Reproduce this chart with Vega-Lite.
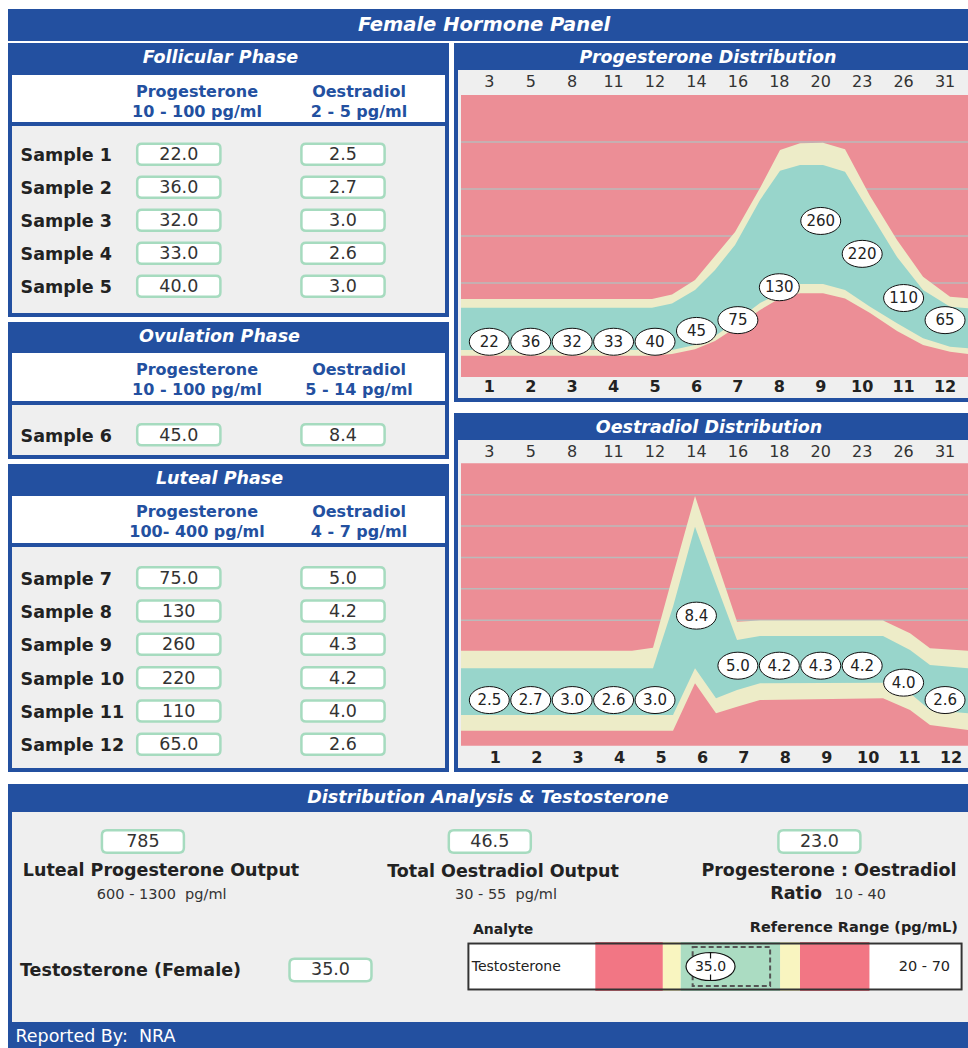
{
"$schema": "https://vega.github.io/schema/vega-lite/v6.json",
"background": "white",
"padding": {"left": 8, "top": 9, "right": 0, "bottom": 0},
"config": {"view": {"stroke": null}, "font": "DejaVu Sans", "text": {"font": "DejaVu Sans"}},
"datasets": {
 "samples": [
  {"sample":1,"label":"Sample 1","phase":"Follicular","day":3,"progesterone":22,"oestradiol":2.5,"progLevel":75,"oestLevel":2.91},
  {"sample":2,"label":"Sample 2","phase":"Follicular","day":5,"progesterone":36,"oestradiol":2.7,"progLevel":75,"oestLevel":2.91},
  {"sample":3,"label":"Sample 3","phase":"Follicular","day":8,"progesterone":32,"oestradiol":3.0,"progLevel":75,"oestLevel":2.91},
  {"sample":4,"label":"Sample 4","phase":"Follicular","day":11,"progesterone":33,"oestradiol":2.6,"progLevel":75,"oestLevel":2.91},
  {"sample":5,"label":"Sample 5","phase":"Follicular","day":12,"progesterone":40,"oestradiol":3.0,"progLevel":75,"oestLevel":2.91},
  {"sample":6,"label":"Sample 6","phase":"Ovulation","day":14,"progesterone":45,"oestradiol":8.4,"progLevel":98,"oestLevel":8.29},
  {"sample":7,"label":"Sample 7","phase":"Luteal","day":16,"progesterone":75,"oestradiol":5.0,"progLevel":121,"oestLevel":5.1},
  {"sample":8,"label":"Sample 8","phase":"Luteal","day":18,"progesterone":130,"oestradiol":4.2,"progLevel":191,"oestLevel":5.1},
  {"sample":9,"label":"Sample 9","phase":"Luteal","day":20,"progesterone":260,"oestradiol":4.3,"progLevel":332,"oestLevel":5.1},
  {"sample":10,"label":"Sample 10","phase":"Luteal","day":23,"progesterone":220,"oestradiol":4.2,"progLevel":262,"oestLevel":5.1},
  {"sample":11,"label":"Sample 11","phase":"Luteal","day":26,"progesterone":110,"oestradiol":4.0,"progLevel":168,"oestLevel":4.02},
  {"sample":12,"label":"Sample 12","phase":"Luteal","day":31,"progesterone":65,"oestradiol":2.6,"progLevel":121,"oestLevel":2.91}
 ],
 "progBand": [
  {"s":0.317,"lyb":45.3,"tb":57.4,"tt":147.4,"uyt":166.0},
  {"s":4.927,"lyb":45.3,"tb":57.4,"tt":147.4,"uyt":166.0},
  {"s":5.410,"lyb":48.9,"tb":57.4,"tt":156.4,"uyt":175.5},
  {"s":5.965,"lyb":58.9,"tb":68.1,"tt":185.1,"uyt":206.4},
  {"s":6.448,"lyb":76.6,"tb":87.2,"tt":227.7,"uyt":257.4},
  {"s":6.931,"lyb":104.3,"tb":117.0,"tt":280.9,"uyt":308.5},
  {"s":7.534,"lyb":142.6,"tb":157.4,"tt":376.6,"uyt":402.1},
  {"s":8.017,"lyb":167.4,"tb":178.7,"tt":438.9,"uyt":483.0},
  {"s":8.500,"lyb":178.1,"tb":197.9,"tt":451.1,"uyt":497.2},
  {"s":9.055,"lyb":178.1,"tb":197.9,"tt":451.1,"uyt":498.5},
  {"s":9.586,"lyb":167.0,"tb":185.1,"tt":436.8,"uyt":484.5},
  {"s":10.190,"lyb":136.2,"tb":149.6,"tt":348.9,"uyt":385.1},
  {"s":10.841,"lyb":97.9,"tb":114.3,"tt":255.3,"uyt":291.5},
  {"s":11.469,"lyb":68.1,"tb":82.3,"tt":185.1,"uyt":213.4},
  {"s":12.121,"lyb":53.8,"tb":64.5,"tt":149.6,"uyt":170.9},
  {"s":12.554,"lyb":48.9,"tb":61.1,"tt":146.2,"uyt":167.4}
 ],
 "oestBand": [
  {"s":0.317,"lyb":0.96,"tb":1.96,"tt":4.93,"uyt":6.06},
  {"s":4.444,"lyb":0.96,"tb":1.96,"tt":4.93,"uyt":6.06},
  {"s":4.951,"lyb":0.96,"tb":1.96,"tt":4.93,"uyt":6.25},
  {"s":5.434,"lyb":0.96,"tb":1.96,"tt":8.85,"uyt":10.88},
  {"s":5.965,"lyb":3.98,"tb":4.93,"tt":13.96,"uyt":15.91},
  {"s":6.472,"lyb":2.07,"tb":3.02,"tt":10.32,"uyt":11.88},
  {"s":6.979,"lyb":2.49,"tb":3.55,"tt":6.74,"uyt":7.90},
  {"s":7.534,"lyb":2.91,"tb":3.98,"tt":6.99,"uyt":7.98},
  {"s":10.503,"lyb":3.02,"tb":4.02,"tt":6.99,"uyt":7.98},
  {"s":11.155,"lyb":2.28,"tb":3.34,"tt":6.10,"uyt":7.16},
  {"s":11.637,"lyb":1.32,"tb":2.28,"tt":5.14,"uyt":6.21},
  {"s":12.554,"lyb":1.00,"tb":2.07,"tt":4.93,"uyt":6.06}
 ],
 "colHeads": [
  {"phase":"Follicular","analyte":"Progesterone","range":"10 - 100 pg/ml"},
  {"phase":"Follicular","analyte":"Oestradiol","range":"2 - 5 pg/ml"},
  {"phase":"Ovulation","analyte":"Progesterone","range":"10 - 100 pg/ml"},
  {"phase":"Ovulation","analyte":"Oestradiol","range":"5 - 14 pg/ml"},
  {"phase":"Luteal","analyte":"Progesterone","range":"100- 400 pg/ml"},
  {"phase":"Luteal","analyte":"Oestradiol","range":"4 - 7 pg/ml"}
 ],
 "summary": [
  {"metric":"Luteal Progesterone Output","title":"Luteal Progesterone Output","subtitle":"","value":785,"range":"600 - 1300 \u00a0pg/ml"},
  {"metric":"Total Oestradiol Output","title":"Total Oestradiol Output","subtitle":"","value":46.5,"range":"30 - 55 \u00a0pg/ml"},
  {"metric":"Progesterone : Oestradiol Ratio","title":"Progesterone : Oestradiol","subtitle":"Ratio","value":23.0,"range":"10 - 40"}
 ],
 "testosterone": [
  {"analyte":"Testosterone","label":"Testosterone (Female)","value":35.0,"targetLow":26,"targetHigh":65,"range":"20 - 70"}
 ],
 "gaugeZones": [
  {"zone":"out","from":-23,"to":11},
  {"zone":"border","from":11,"to":20},
  {"zone":"normal","from":20,"to":70},
  {"zone":"border","from":70,"to":80},
  {"zone":"out","from":80,"to":115}
 ]
},
"vconcat": [
 {"vconcat": [
  {"width": 960, "height": 32, "data": {"values": [{}]}, "layer": [
   {"mark": {"type": "rect", "color": "#2350a0"}, "encoding": {}},
   {"mark": {"type": "text", "text": "Female Hormone Panel", "color": "white", "fontSize": 19.5, "fontWeight": "bold", "fontStyle": "italic", "dx": -4}, "encoding": {}}
  ]},
  {"hconcat": [
   {"vconcat": [
    {"vconcat": [
     {"width": 441, "height": 32, "data": {"values": [{}]}, "layer": [
      {"mark": {"type": "rect", "color": "#2350a0"}, "encoding": {}},
      {"mark": {"type": "text", "text": "Follicular Phase", "color": "white", "fontSize": 17.5, "fontWeight": "bold", "fontStyle": "italic", "dx": -8, "dy": -1}, "encoding": {}}
     ]},
     {"hconcat": [
      {"width": 4, "height": 47, "data": {"values": [{}]}, "mark": {"type": "rect", "color": "#2350a0"}, "encoding": {}},
      {"width": 433, "height": 47, "layer": [
       {"data": {"values": [{}]}, "mark": {"type": "rect", "color": "white"}, "encoding": {}},
       {"data": {"name": "colHeads"}, "transform": [{"filter": "datum.phase === 'Follicular'"}, {"fold": ["analyte", "range"], "as": ["line", "text"]}],
        "mark": {"type": "text", "fontSize": 16, "fontWeight": "bold", "color": "#2350a0"},
        "encoding": {
         "x": {"field": "analyte", "type": "nominal", "scale": {"type": "point", "domain": ["Progesterone", "Oestradiol"], "padding": 0.8364, "align": 0.6827}, "axis": null},
         "y": {"field": "line", "type": "nominal", "scale": {"type": "point", "domain": ["analyte", "range"], "padding": 0.675, "align": 0.62}, "axis": null},
         "text": {"field": "text"}}}
      ]},
      {"width": 4, "height": 47, "data": {"values": [{}]}, "mark": {"type": "rect", "color": "#2350a0"}, "encoding": {}}
     ], "spacing": 0},
     {"width": 441, "height": 4, "data": {"values": [{}]}, "mark": {"type": "rect", "color": "#2350a0"}, "encoding": {}},
     {"hconcat": [
      {"width": 4, "height": 187, "data": {"values": [{}]}, "mark": {"type": "rect", "color": "#2350a0"}, "encoding": {}},
      {"width": 433, "height": 187, "layer": [
       {"data": {"values": [{}]}, "mark": {"type": "rect", "color": "#efefef"}, "encoding": {}},
       {"data": {"name": "samples"}, "transform": [{"filter": "datum.phase === 'Follicular'"}],
        "mark": {"type": "point", "shape": "M-3.533,-1L3.533,-1Q3.962,-1,3.962,-0.571L3.962,0.571Q3.962,1,3.533,1L-3.533,1Q-3.962,1,-3.962,0.571L-3.962,-0.571Q-3.962,-1,-3.533,-1Z", "size": 441, "filled": true, "fill": "white", "stroke": "#a6dbbf", "strokeWidth": 2.5, "opacity": 1},
        "encoding": {
         "x": {"datum": "Progesterone", "type": "nominal", "scale": {"type": "point", "domain": ["label", "Progesterone", "Oestradiol"], "padding": 0.3185, "align": 0.0249}, "axis": null},
         "y": {"field": "sample", "type": "ordinal", "scale": {"type": "point", "padding": 0.833, "align": 0.5145}, "axis": null}}},
       {"data": {"name": "samples"}, "transform": [{"filter": "datum.phase === 'Follicular'"}],
        "mark": {"type": "point", "shape": "M-3.533,-1L3.533,-1Q3.962,-1,3.962,-0.571L3.962,0.571Q3.962,1,3.533,1L-3.533,1Q-3.962,1,-3.962,0.571L-3.962,-0.571Q-3.962,-1,-3.533,-1Z", "size": 441, "filled": true, "fill": "white", "stroke": "#a6dbbf", "strokeWidth": 2.5, "opacity": 1},
        "encoding": {
         "x": {"datum": "Oestradiol", "type": "nominal", "scale": {"type": "point", "domain": ["label", "Progesterone", "Oestradiol"], "padding": 0.3185, "align": 0.0249}, "axis": null},
         "y": {"field": "sample", "type": "ordinal", "scale": {"type": "point", "padding": 0.833, "align": 0.5145}, "axis": null}}},
       {"data": {"name": "samples"}, "transform": [{"filter": "datum.phase === 'Follicular'"}],
        "mark": {"type": "text", "fontSize": 17.5, "color": "#333", "dy": 1},
        "encoding": {
         "x": {"datum": "Progesterone", "type": "nominal", "scale": {"type": "point", "domain": ["label", "Progesterone", "Oestradiol"], "padding": 0.3185, "align": 0.0249}, "axis": null},
         "y": {"field": "sample", "type": "ordinal", "scale": {"type": "point", "padding": 0.833, "align": 0.5145}, "axis": null},
         "text": {"field": "progesterone", "type": "quantitative", "format": ".3r"}}},
       {"data": {"name": "samples"}, "transform": [{"filter": "datum.phase === 'Follicular'"}],
        "mark": {"type": "text", "fontSize": 17.5, "color": "#333", "dy": 1},
        "encoding": {
         "x": {"datum": "Oestradiol", "type": "nominal", "scale": {"type": "point", "domain": ["label", "Progesterone", "Oestradiol"], "padding": 0.3185, "align": 0.0249}, "axis": null},
         "y": {"field": "sample", "type": "ordinal", "scale": {"type": "point", "padding": 0.833, "align": 0.5145}, "axis": null},
         "text": {"field": "oestradiol", "type": "quantitative", "format": ".1f"}}},
       {"data": {"name": "samples"}, "transform": [{"filter": "datum.phase === 'Follicular'"}],
        "mark": {"type": "text", "fontSize": 17.5, "fontWeight": "bold", "color": "#222", "align": "left", "dx": 6, "dy": 2},
        "encoding": {
         "x": {"datum": "label", "type": "nominal", "scale": {"type": "point", "domain": ["label", "Progesterone", "Oestradiol"], "padding": 0.3185, "align": 0.0249}, "axis": null},
         "y": {"field": "sample", "type": "ordinal", "scale": {"type": "point", "padding": 0.833, "align": 0.5145}, "axis": null},
         "text": {"field": "label"}}}
      ]},
      {"width": 4, "height": 187, "data": {"values": [{}]}, "mark": {"type": "rect", "color": "#2350a0"}, "encoding": {}}
     ], "spacing": 0},
     {"width": 441, "height": 4, "data": {"values": [{}]}, "mark": {"type": "rect", "color": "#2350a0"}, "encoding": {}}
    ], "spacing": 0},
    {"vconcat": [
     {"width": 441, "height": 31, "data": {"values": [{}]}, "layer": [
      {"mark": {"type": "rect", "color": "#2350a0"}, "encoding": {}},
      {"mark": {"type": "text", "text": "Ovulation Phase", "color": "white", "fontSize": 17.5, "fontWeight": "bold", "fontStyle": "italic", "dx": -9, "dy": -1}, "encoding": {}}
     ]},
     {"hconcat": [
      {"width": 4, "height": 48, "data": {"values": [{}]}, "mark": {"type": "rect", "color": "#2350a0"}, "encoding": {}},
      {"width": 433, "height": 48, "layer": [
       {"data": {"values": [{}]}, "mark": {"type": "rect", "color": "white"}, "encoding": {}},
       {"data": {"name": "colHeads"}, "transform": [{"filter": "datum.phase === 'Ovulation'"}, {"fold": ["analyte", "range"], "as": ["line", "text"]}],
        "mark": {"type": "text", "fontSize": 16, "fontWeight": "bold", "color": "#2350a0"},
        "encoding": {
         "x": {"field": "analyte", "type": "nominal", "scale": {"type": "point", "domain": ["Progesterone", "Oestradiol"], "padding": 0.8364, "align": 0.6827}, "axis": null},
         "y": {"field": "line", "type": "nominal", "scale": {"type": "point", "domain": ["analyte", "range"], "padding": 0.7, "align": 0.618}, "axis": null},
         "text": {"field": "text"}}}
      ]},
      {"width": 4, "height": 48, "data": {"values": [{}]}, "mark": {"type": "rect", "color": "#2350a0"}, "encoding": {}}
     ], "spacing": 0},
     {"width": 441, "height": 4, "data": {"values": [{}]}, "mark": {"type": "rect", "color": "#2350a0"}, "encoding": {}},
     {"hconcat": [
      {"width": 4, "height": 50, "data": {"values": [{}]}, "mark": {"type": "rect", "color": "#2350a0"}, "encoding": {}},
      {"width": 433, "height": 50, "layer": [
       {"data": {"values": [{}]}, "mark": {"type": "rect", "color": "#efefef"}, "encoding": {}},
       {"data": {"name": "samples"}, "transform": [{"filter": "datum.phase === 'Ovulation'"}],
        "mark": {"type": "point", "shape": "M-3.533,-1L3.533,-1Q3.962,-1,3.962,-0.571L3.962,0.571Q3.962,1,3.533,1L-3.533,1Q-3.962,1,-3.962,0.571L-3.962,-0.571Q-3.962,-1,-3.533,-1Z", "size": 441, "filled": true, "fill": "white", "stroke": "#a6dbbf", "strokeWidth": 2.5, "opacity": 1},
        "encoding": {
         "x": {"datum": "Progesterone", "type": "nominal", "scale": {"type": "point", "domain": ["label", "Progesterone", "Oestradiol"], "padding": 0.3185, "align": 0.0249}, "axis": null},
         "y": {"field": "sample", "type": "ordinal", "scale": {"type": "point", "padding": 0.5, "align": 0.594}, "axis": null}}},
       {"data": {"name": "samples"}, "transform": [{"filter": "datum.phase === 'Ovulation'"}],
        "mark": {"type": "point", "shape": "M-3.533,-1L3.533,-1Q3.962,-1,3.962,-0.571L3.962,0.571Q3.962,1,3.533,1L-3.533,1Q-3.962,1,-3.962,0.571L-3.962,-0.571Q-3.962,-1,-3.533,-1Z", "size": 441, "filled": true, "fill": "white", "stroke": "#a6dbbf", "strokeWidth": 2.5, "opacity": 1},
        "encoding": {
         "x": {"datum": "Oestradiol", "type": "nominal", "scale": {"type": "point", "domain": ["label", "Progesterone", "Oestradiol"], "padding": 0.3185, "align": 0.0249}, "axis": null},
         "y": {"field": "sample", "type": "ordinal", "scale": {"type": "point", "padding": 0.5, "align": 0.594}, "axis": null}}},
       {"data": {"name": "samples"}, "transform": [{"filter": "datum.phase === 'Ovulation'"}],
        "mark": {"type": "text", "fontSize": 17.5, "color": "#333", "dy": 1},
        "encoding": {
         "x": {"datum": "Progesterone", "type": "nominal", "scale": {"type": "point", "domain": ["label", "Progesterone", "Oestradiol"], "padding": 0.3185, "align": 0.0249}, "axis": null},
         "y": {"field": "sample", "type": "ordinal", "scale": {"type": "point", "padding": 0.5, "align": 0.594}, "axis": null},
         "text": {"field": "progesterone", "type": "quantitative", "format": ".3r"}}},
       {"data": {"name": "samples"}, "transform": [{"filter": "datum.phase === 'Ovulation'"}],
        "mark": {"type": "text", "fontSize": 17.5, "color": "#333", "dy": 1},
        "encoding": {
         "x": {"datum": "Oestradiol", "type": "nominal", "scale": {"type": "point", "domain": ["label", "Progesterone", "Oestradiol"], "padding": 0.3185, "align": 0.0249}, "axis": null},
         "y": {"field": "sample", "type": "ordinal", "scale": {"type": "point", "padding": 0.5, "align": 0.594}, "axis": null},
         "text": {"field": "oestradiol", "type": "quantitative", "format": ".1f"}}},
       {"data": {"name": "samples"}, "transform": [{"filter": "datum.phase === 'Ovulation'"}],
        "mark": {"type": "text", "fontSize": 17.5, "fontWeight": "bold", "color": "#222", "align": "left", "dx": 6, "dy": 2},
        "encoding": {
         "x": {"datum": "label", "type": "nominal", "scale": {"type": "point", "domain": ["label", "Progesterone", "Oestradiol"], "padding": 0.3185, "align": 0.0249}, "axis": null},
         "y": {"field": "sample", "type": "ordinal", "scale": {"type": "point", "padding": 0.5, "align": 0.594}, "axis": null},
         "text": {"field": "label"}}}
      ]},
      {"width": 4, "height": 50, "data": {"values": [{}]}, "mark": {"type": "rect", "color": "#2350a0"}, "encoding": {}}
     ], "spacing": 0},
     {"width": 441, "height": 4, "data": {"values": [{}]}, "mark": {"type": "rect", "color": "#2350a0"}, "encoding": {}}
    ], "spacing": 0},
    {"vconcat": [
     {"width": 441, "height": 32, "data": {"values": [{}]}, "layer": [
      {"mark": {"type": "rect", "color": "#2350a0"}, "encoding": {}},
      {"mark": {"type": "text", "text": "Luteal Phase", "color": "white", "fontSize": 17.5, "fontWeight": "bold", "fontStyle": "italic", "dx": -9, "dy": -1}, "encoding": {}}
     ]},
     {"hconcat": [
      {"width": 4, "height": 47, "data": {"values": [{}]}, "mark": {"type": "rect", "color": "#2350a0"}, "encoding": {}},
      {"width": 433, "height": 47, "layer": [
       {"data": {"values": [{}]}, "mark": {"type": "rect", "color": "white"}, "encoding": {}},
       {"data": {"name": "colHeads"}, "transform": [{"filter": "datum.phase === 'Luteal'"}, {"fold": ["analyte", "range"], "as": ["line", "text"]}],
        "mark": {"type": "text", "fontSize": 16, "fontWeight": "bold", "color": "#2350a0"},
        "encoding": {
         "x": {"field": "analyte", "type": "nominal", "scale": {"type": "point", "domain": ["Progesterone", "Oestradiol"], "padding": 0.8364, "align": 0.6827}, "axis": null},
         "y": {"field": "line", "type": "nominal", "scale": {"type": "point", "domain": ["analyte", "range"], "padding": 0.675, "align": 0.58}, "axis": null},
         "text": {"field": "text"}}}
      ]},
      {"width": 4, "height": 47, "data": {"values": [{}]}, "mark": {"type": "rect", "color": "#2350a0"}, "encoding": {}}
     ], "spacing": 0},
     {"width": 441, "height": 4, "data": {"values": [{}]}, "mark": {"type": "rect", "color": "#2350a0"}, "encoding": {}},
     {"hconcat": [
      {"width": 4, "height": 221, "data": {"values": [{}]}, "mark": {"type": "rect", "color": "#2350a0"}, "encoding": {}},
      {"width": 433, "height": 221, "layer": [
       {"data": {"values": [{}]}, "mark": {"type": "rect", "color": "#efefef"}, "encoding": {}},
       {"data": {"name": "samples"}, "transform": [{"filter": "datum.phase === 'Luteal'"}],
        "mark": {"type": "point", "shape": "M-3.533,-1L3.533,-1Q3.962,-1,3.962,-0.571L3.962,0.571Q3.962,1,3.533,1L-3.533,1Q-3.962,1,-3.962,0.571L-3.962,-0.571Q-3.962,-1,-3.533,-1Z", "size": 441, "filled": true, "fill": "white", "stroke": "#a6dbbf", "strokeWidth": 2.5, "opacity": 1},
        "encoding": {
         "x": {"datum": "Progesterone", "type": "nominal", "scale": {"type": "point", "domain": ["label", "Progesterone", "Oestradiol"], "padding": 0.3185, "align": 0.0249}, "axis": null},
         "y": {"field": "sample", "type": "ordinal", "scale": {"type": "point", "padding": 0.815, "align": 0.565}, "axis": null}}},
       {"data": {"name": "samples"}, "transform": [{"filter": "datum.phase === 'Luteal'"}],
        "mark": {"type": "point", "shape": "M-3.533,-1L3.533,-1Q3.962,-1,3.962,-0.571L3.962,0.571Q3.962,1,3.533,1L-3.533,1Q-3.962,1,-3.962,0.571L-3.962,-0.571Q-3.962,-1,-3.533,-1Z", "size": 441, "filled": true, "fill": "white", "stroke": "#a6dbbf", "strokeWidth": 2.5, "opacity": 1},
        "encoding": {
         "x": {"datum": "Oestradiol", "type": "nominal", "scale": {"type": "point", "domain": ["label", "Progesterone", "Oestradiol"], "padding": 0.3185, "align": 0.0249}, "axis": null},
         "y": {"field": "sample", "type": "ordinal", "scale": {"type": "point", "padding": 0.815, "align": 0.565}, "axis": null}}},
       {"data": {"name": "samples"}, "transform": [{"filter": "datum.phase === 'Luteal'"}],
        "mark": {"type": "text", "fontSize": 17.5, "color": "#333", "dy": 1},
        "encoding": {
         "x": {"datum": "Progesterone", "type": "nominal", "scale": {"type": "point", "domain": ["label", "Progesterone", "Oestradiol"], "padding": 0.3185, "align": 0.0249}, "axis": null},
         "y": {"field": "sample", "type": "ordinal", "scale": {"type": "point", "padding": 0.815, "align": 0.565}, "axis": null},
         "text": {"field": "progesterone", "type": "quantitative", "format": ".3r"}}},
       {"data": {"name": "samples"}, "transform": [{"filter": "datum.phase === 'Luteal'"}],
        "mark": {"type": "text", "fontSize": 17.5, "color": "#333", "dy": 1},
        "encoding": {
         "x": {"datum": "Oestradiol", "type": "nominal", "scale": {"type": "point", "domain": ["label", "Progesterone", "Oestradiol"], "padding": 0.3185, "align": 0.0249}, "axis": null},
         "y": {"field": "sample", "type": "ordinal", "scale": {"type": "point", "padding": 0.815, "align": 0.565}, "axis": null},
         "text": {"field": "oestradiol", "type": "quantitative", "format": ".1f"}}},
       {"data": {"name": "samples"}, "transform": [{"filter": "datum.phase === 'Luteal'"}],
        "mark": {"type": "text", "fontSize": 17.5, "fontWeight": "bold", "color": "#222", "align": "left", "dx": 6, "dy": 2},
        "encoding": {
         "x": {"datum": "label", "type": "nominal", "scale": {"type": "point", "domain": ["label", "Progesterone", "Oestradiol"], "padding": 0.3185, "align": 0.0249}, "axis": null},
         "y": {"field": "sample", "type": "ordinal", "scale": {"type": "point", "padding": 0.815, "align": 0.565}, "axis": null},
         "text": {"field": "label"}}}
      ]},
      {"width": 4, "height": 221, "data": {"values": [{}]}, "mark": {"type": "rect", "color": "#2350a0"}, "encoding": {}}
     ], "spacing": 0},
     {"width": 441, "height": 4, "data": {"values": [{}]}, "mark": {"type": "rect", "color": "#2350a0"}, "encoding": {}}
    ], "spacing": 0}
   ], "spacing": 5},
   {"vconcat": [
    {"vconcat": [
     {"width": 514, "height": 27, "data": {"values": [{}]}, "layer": [
      {"mark": {"type": "rect", "color": "#2350a0"}, "encoding": {}},
      {"mark": {"type": "text", "text": "Progesterone Distribution", "color": "white", "fontSize": 17.5, "fontWeight": "bold", "fontStyle": "italic", "dx": -3, "dy": 1}, "encoding": {}}
     ]},
     {"hconcat": [
      {"width": 4, "height": 328, "data": {"values": [{}]}, "mark": {"type": "rect", "color": "#2350a0"}, "encoding": {}},
      {"width": 510, "height": 328, "layer": [
       {"data": {"values": [{}]}, "mark": {"type": "rect", "color": "#efefef"}, "encoding": {}},
       {"data": {"values": [{}]}, "mark": {"type": "rect", "color": "#ec8e96"}, "encoding": {
        "x": {"datum": 0.317, "type": "quantitative", "scale": {"domain": [0.2445, 12.554], "nice": false, "zero": false}, "axis": null}, "x2": {"datum": 12.554},
        "y": {"datum": 0, "type": "quantitative", "scale": {"domain": [-44.68, 653.2], "nice": false, "zero": false}, "axis": null}, "y2": {"datum": 600}}},
       {"data": {"values": [{"level": 200}, {"level": 300}, {"level": 400}, {"level": 500}]}, "mark": {"type": "rule", "color": "#bababa", "strokeWidth": 1.5}, "encoding": {
        "x": {"datum": 0.317, "type": "quantitative", "scale": {"domain": [0.2445, 12.554], "nice": false, "zero": false}, "axis": null}, "x2": {"datum": 12.554},
        "y": {"field": "level", "type": "quantitative", "scale": {"domain": [-44.68, 653.2], "nice": false, "zero": false}, "axis": null}}},
       {"data": {"name": "progBand"}, "mark": {"type": "area", "color": "#edecc8", "opacity": 1}, "encoding": {
        "x": {"field": "s", "type": "quantitative", "scale": {"domain": [0.2445, 12.554], "nice": false, "zero": false}, "axis": null},
        "y": {"field": "lyb", "type": "quantitative", "scale": {"domain": [-44.68, 653.2], "nice": false, "zero": false}, "axis": null}, "y2": {"field": "uyt"}}},
       {"data": {"name": "progBand"}, "mark": {"type": "area", "color": "#98d5cb", "opacity": 1}, "encoding": {
        "x": {"field": "s", "type": "quantitative", "scale": {"domain": [0.2445, 12.554], "nice": false, "zero": false}, "axis": null},
        "y": {"field": "tb", "type": "quantitative", "scale": {"domain": [-44.68, 653.2], "nice": false, "zero": false}, "axis": null}, "y2": {"field": "tt"}}},
       {"data": {"name": "samples"}, "mark": {"type": "point", "shape": "M-1.481,0C-1.481,-0.552,-0.818,-1,0,-1C0.818,-1,1.481,-0.552,1.481,0C1.481,0.552,0.818,1,0,1C-0.818,1,-1.481,0.552,-1.481,0Z", "size": 729, "filled": true, "fill": "white", "stroke": "#111", "strokeWidth": 1, "opacity": 1}, "encoding": {
        "x": {"field": "sample", "type": "quantitative", "scale": {"domain": [0.2445, 12.554], "nice": false, "zero": false}, "axis": null},
        "y": {"field": "progLevel", "type": "quantitative", "scale": {"domain": [-44.68, 653.2], "nice": false, "zero": false}, "axis": null}}},
       {"data": {"name": "samples"}, "mark": {"type": "text", "fontSize": 15, "color": "#222"}, "encoding": {
        "x": {"field": "sample", "type": "quantitative", "scale": {"domain": [0.2445, 12.554], "nice": false, "zero": false}, "axis": null},
        "y": {"field": "progLevel", "type": "quantitative", "scale": {"domain": [-44.68, 653.2], "nice": false, "zero": false}, "axis": null},
        "text": {"field": "progesterone", "type": "quantitative", "format": "d"}}},
       {"data": {"name": "samples"}, "mark": {"type": "text", "fontSize": 16, "color": "#333"}, "encoding": {
        "x": {"field": "sample", "type": "quantitative", "scale": {"domain": [0.2445, 12.554], "nice": false, "zero": false}, "axis": null},
        "y": {"datum": 627, "type": "quantitative", "scale": {"domain": [-44.68, 653.2], "nice": false, "zero": false}, "axis": null},
        "text": {"field": "day", "type": "quantitative", "format": "d"}}},
       {"data": {"name": "samples"}, "mark": {"type": "text", "fontSize": 16, "fontWeight": "bold", "color": "#222"}, "encoding": {
        "x": {"field": "sample", "type": "quantitative", "scale": {"domain": [0.2445, 12.554], "nice": false, "zero": false}, "axis": null},
        "y": {"datum": -21.3, "type": "quantitative", "scale": {"domain": [-44.68, 653.2], "nice": false, "zero": false}, "axis": null},
        "text": {"field": "sample", "type": "quantitative", "format": "d"}}}
      ]}
     ], "spacing": 0},
     {"width": 514, "height": 4, "data": {"values": [{}]}, "mark": {"type": "rect", "color": "#2350a0"}, "encoding": {}}
    ], "spacing": 0},
    {"vconcat": [
     {"width": 514, "height": 27, "data": {"values": [{}]}, "layer": [
      {"mark": {"type": "rect", "color": "#2350a0"}, "encoding": {}},
      {"mark": {"type": "text", "text": "Oestradiol Distribution", "color": "white", "fontSize": 17.5, "fontWeight": "bold", "fontStyle": "italic", "dx": -2, "dy": 1}, "encoding": {}}
     ]},
     {"hconcat": [
      {"width": 4, "height": 328, "data": {"values": [{}]}, "mark": {"type": "rect", "color": "#2350a0"}, "encoding": {}},
      {"width": 510, "height": 328, "layer": [
       {"data": {"values": [{}]}, "mark": {"type": "rect", "color": "#efefef"}, "encoding": {}},
       {"data": {"values": [{}]}, "mark": {"type": "rect", "color": "#ec8e96"}, "encoding": {
        "x": {"datum": 0.317, "type": "quantitative", "scale": {"domain": [0.2445, 12.554], "nice": false, "zero": false}, "axis": null}, "x2": {"datum": 12.554},
        "y": {"datum": 0, "type": "quantitative", "scale": {"domain": [-1.421, 19.485], "nice": false, "zero": false}, "axis": null}, "y2": {"datum": 18}}},
       {"data": {"values": [{"level": 8}, {"level": 10}, {"level": 12}, {"level": 14}, {"level": 16}]}, "mark": {"type": "rule", "color": "#bababa", "strokeWidth": 1.5}, "encoding": {
        "x": {"datum": 0.317, "type": "quantitative", "scale": {"domain": [0.2445, 12.554], "nice": false, "zero": false}, "axis": null}, "x2": {"datum": 12.554},
        "y": {"field": "level", "type": "quantitative", "scale": {"domain": [-1.421, 19.485], "nice": false, "zero": false}, "axis": null}}},
       {"data": {"name": "oestBand"}, "mark": {"type": "area", "color": "#edecc8", "opacity": 1}, "encoding": {
        "x": {"field": "s", "type": "quantitative", "scale": {"domain": [0.2445, 12.554], "nice": false, "zero": false}, "axis": null},
        "y": {"field": "lyb", "type": "quantitative", "scale": {"domain": [-1.421, 19.485], "nice": false, "zero": false}, "axis": null}, "y2": {"field": "uyt"}}},
       {"data": {"name": "oestBand"}, "mark": {"type": "area", "color": "#98d5cb", "opacity": 1}, "encoding": {
        "x": {"field": "s", "type": "quantitative", "scale": {"domain": [0.2445, 12.554], "nice": false, "zero": false}, "axis": null},
        "y": {"field": "tb", "type": "quantitative", "scale": {"domain": [-1.421, 19.485], "nice": false, "zero": false}, "axis": null}, "y2": {"field": "tt"}}},
       {"data": {"name": "samples"}, "mark": {"type": "point", "shape": "M-1.481,0C-1.481,-0.552,-0.818,-1,0,-1C0.818,-1,1.481,-0.552,1.481,0C1.481,0.552,0.818,1,0,1C-0.818,1,-1.481,0.552,-1.481,0Z", "size": 729, "filled": true, "fill": "white", "stroke": "#111", "strokeWidth": 1, "opacity": 1}, "encoding": {
        "x": {"field": "sample", "type": "quantitative", "scale": {"domain": [0.2445, 12.554], "nice": false, "zero": false}, "axis": null},
        "y": {"field": "oestLevel", "type": "quantitative", "scale": {"domain": [-1.421, 19.485], "nice": false, "zero": false}, "axis": null}}},
       {"data": {"name": "samples"}, "mark": {"type": "text", "fontSize": 15, "color": "#222"}, "encoding": {
        "x": {"field": "sample", "type": "quantitative", "scale": {"domain": [0.2445, 12.554], "nice": false, "zero": false}, "axis": null},
        "y": {"field": "oestLevel", "type": "quantitative", "scale": {"domain": [-1.421, 19.485], "nice": false, "zero": false}, "axis": null},
        "text": {"field": "oestradiol", "type": "quantitative", "format": ".1f"}}},
       {"data": {"name": "samples"}, "mark": {"type": "text", "fontSize": 16, "color": "#333"}, "encoding": {
        "x": {"field": "sample", "type": "quantitative", "scale": {"domain": [0.2445, 12.554], "nice": false, "zero": false}, "axis": null},
        "y": {"datum": 18.74, "type": "quantitative", "scale": {"domain": [-1.421, 19.485], "nice": false, "zero": false}, "axis": null},
        "text": {"field": "day", "type": "quantitative", "format": "d"}}},
       {"data": {"name": "samples"}, "mark": {"type": "text", "fontSize": 16, "fontWeight": "bold", "color": "#222", "dx": 6}, "encoding": {
        "x": {"field": "sample", "type": "quantitative", "scale": {"domain": [0.2445, 12.554], "nice": false, "zero": false}, "axis": null},
        "y": {"datum": -0.77, "type": "quantitative", "scale": {"domain": [-1.421, 19.485], "nice": false, "zero": false}, "axis": null},
        "text": {"field": "sample", "type": "quantitative", "format": "d"}}}
      ]}
     ], "spacing": 0},
     {"width": 514, "height": 4, "data": {"values": [{}]}, "mark": {"type": "rect", "color": "#2350a0"}, "encoding": {}}
    ], "spacing": 0}
   ], "spacing": 11}
  ], "spacing": 5}
 ], "spacing": 2},
 {"vconcat": [
  {"width": 960, "height": 28, "data": {"values": [{}]}, "layer": [
   {"mark": {"type": "rect", "color": "#2350a0"}, "encoding": {}},
   {"mark": {"type": "text", "text": "Distribution Analysis & Testosterone", "color": "white", "fontSize": 17.5, "fontWeight": "bold", "fontStyle": "italic"}, "encoding": {}}
  ]},
  {"hconcat": [
   {"width": 4, "height": 210, "data": {"values": [{}]}, "mark": {"type": "rect", "color": "#2350a0"}, "encoding": {}},
   {"vconcat": [
    {"hconcat": [
     {"width": 298, "height": 106, "layer": [
      {"data": {"values": [{}]}, "mark": {"type": "rect", "color": "#efefef"}, "encoding": {}},
      {"data": {"name": "summary"}, "transform": [{"filter": "datum.metric === 'Luteal Progesterone Output'"}],
       "mark": {"type": "point", "shape": "M-3.2,-1L3.2,-1Q3.644,-1,3.644,-0.556L3.644,0.556Q3.644,1,3.2,1L-3.2,1Q-3.644,1,-3.644,0.556L-3.644,-0.556Q-3.644,-1,-3.2,-1Z", "size": 506, "filled": true, "fill": "white", "stroke": "#a6dbbf", "strokeWidth": 2.5, "opacity": 1},
       "encoding": {"x": {"field": "metric", "type": "nominal", "scale": {"type": "point", "padding": 0.5, "align": 0.4393}, "axis": null}, "y": {"field": "metric", "type": "nominal", "scale": {"type": "point", "padding": 0.5, "align": 0.2783}, "axis": null}}},
      {"data": {"name": "summary"}, "transform": [{"filter": "datum.metric === 'Luteal Progesterone Output'"}],
       "mark": {"type": "text", "fontSize": 17.5, "color": "#333", "dy": 1},
       "encoding": {"x": {"field": "metric", "type": "nominal", "scale": {"type": "point", "padding": 0.5, "align": 0.4393}, "axis": null}, "y": {"field": "metric", "type": "nominal", "scale": {"type": "point", "padding": 0.5, "align": 0.2783}, "axis": null}, "text": {"field": "value", "type": "quantitative", "format": ".3r"}}},
      {"data": {"name": "summary"}, "transform": [{"filter": "datum.metric === 'Luteal Progesterone Output'"}],
       "mark": {"type": "text", "fontSize": 17.5, "fontWeight": "bold", "color": "#222", "dx": 18.1, "dy": 30},
       "encoding": {"x": {"field": "metric", "type": "nominal", "scale": {"type": "point", "padding": 0.5, "align": 0.4393}, "axis": null}, "y": {"field": "metric", "type": "nominal", "scale": {"type": "point", "padding": 0.5, "align": 0.2783}, "axis": null}, "text": {"field": "title"}}},
      {"data": {"name": "summary"}, "transform": [{"filter": "datum.metric === 'Luteal Progesterone Output'"}],
       "mark": {"type": "text", "fontSize": 14.5, "color": "#333", "dx": 18.8, "dy": 53.5},
       "encoding": {"x": {"field": "metric", "type": "nominal", "scale": {"type": "point", "padding": 0.5, "align": 0.4393}, "axis": null}, "y": {"field": "metric", "type": "nominal", "scale": {"type": "point", "padding": 0.5, "align": 0.2783}, "axis": null}, "text": {"field": "range"}}}
     ]},
     {"width": 386, "height": 106, "layer": [
      {"data": {"values": [{}]}, "mark": {"type": "rect", "color": "#efefef"}, "encoding": {}},
      {"data": {"name": "summary"}, "transform": [{"filter": "datum.metric === 'Total Oestradiol Output'"}],
       "mark": {"type": "point", "shape": "M-3.2,-1L3.2,-1Q3.644,-1,3.644,-0.556L3.644,0.556Q3.644,1,3.2,1L-3.2,1Q-3.644,1,-3.644,0.556L-3.644,-0.556Q-3.644,-1,-3.2,-1Z", "size": 506, "filled": true, "fill": "white", "stroke": "#a6dbbf", "strokeWidth": 2.5, "opacity": 1},
       "encoding": {"x": {"field": "metric", "type": "nominal", "scale": {"type": "point", "padding": 0.5, "align": 0.4658}, "axis": null}, "y": {"field": "metric", "type": "nominal", "scale": {"type": "point", "padding": 0.5, "align": 0.2783}, "axis": null}}},
      {"data": {"name": "summary"}, "transform": [{"filter": "datum.metric === 'Total Oestradiol Output'"}],
       "mark": {"type": "text", "fontSize": 17.5, "color": "#333", "dy": 1},
       "encoding": {"x": {"field": "metric", "type": "nominal", "scale": {"type": "point", "padding": 0.5, "align": 0.4658}, "axis": null}, "y": {"field": "metric", "type": "nominal", "scale": {"type": "point", "padding": 0.5, "align": 0.2783}, "axis": null}, "text": {"field": "value", "type": "quantitative", "format": ".3r"}}},
      {"data": {"name": "summary"}, "transform": [{"filter": "datum.metric === 'Total Oestradiol Output'"}],
       "mark": {"type": "text", "fontSize": 17.5, "fontWeight": "bold", "color": "#222", "dx": 13.2, "dy": 31},
       "encoding": {"x": {"field": "metric", "type": "nominal", "scale": {"type": "point", "padding": 0.5, "align": 0.4658}, "axis": null}, "y": {"field": "metric", "type": "nominal", "scale": {"type": "point", "padding": 0.5, "align": 0.2783}, "axis": null}, "text": {"field": "title"}}},
      {"data": {"name": "summary"}, "transform": [{"filter": "datum.metric === 'Total Oestradiol Output'"}],
       "mark": {"type": "text", "fontSize": 14.5, "color": "#333", "dx": 16.2, "dy": 53.5},
       "encoding": {"x": {"field": "metric", "type": "nominal", "scale": {"type": "point", "padding": 0.5, "align": 0.4658}, "axis": null}, "y": {"field": "metric", "type": "nominal", "scale": {"type": "point", "padding": 0.5, "align": 0.2783}, "axis": null}, "text": {"field": "range"}}}
     ]},
     {"width": 266, "height": 106, "layer": [
      {"data": {"values": [{}]}, "mark": {"type": "rect", "color": "#efefef"}, "encoding": {}},
      {"data": {"name": "summary"}, "transform": [{"filter": "datum.metric === 'Progesterone : Oestradiol Ratio'"}],
       "mark": {"type": "point", "shape": "M-3.2,-1L3.2,-1Q3.644,-1,3.644,-0.556L3.644,0.556Q3.644,1,3.2,1L-3.2,1Q-3.644,1,-3.644,0.556L-3.644,-0.556Q-3.644,-1,-3.2,-1Z", "size": 506, "filled": true, "fill": "white", "stroke": "#a6dbbf", "strokeWidth": 2.5, "opacity": 1},
       "encoding": {"x": {"field": "metric", "type": "nominal", "scale": {"type": "point", "padding": 0.5, "align": 0.4639}, "axis": null}, "y": {"field": "metric", "type": "nominal", "scale": {"type": "point", "padding": 0.5, "align": 0.2783}, "axis": null}}},
      {"data": {"name": "summary"}, "transform": [{"filter": "datum.metric === 'Progesterone : Oestradiol Ratio'"}],
       "mark": {"type": "text", "fontSize": 17.5, "color": "#333", "dy": 1},
       "encoding": {"x": {"field": "metric", "type": "nominal", "scale": {"type": "point", "padding": 0.5, "align": 0.4639}, "axis": null}, "y": {"field": "metric", "type": "nominal", "scale": {"type": "point", "padding": 0.5, "align": 0.2783}, "axis": null}, "text": {"field": "value", "type": "quantitative", "format": ".3r"}}},
      {"data": {"name": "summary"}, "transform": [{"filter": "datum.metric === 'Progesterone : Oestradiol Ratio'"}],
       "mark": {"type": "text", "fontSize": 17.5, "fontWeight": "bold", "color": "#222", "dx": 9.6, "dy": 30},
       "encoding": {"x": {"field": "metric", "type": "nominal", "scale": {"type": "point", "padding": 0.5, "align": 0.4639}, "axis": null}, "y": {"field": "metric", "type": "nominal", "scale": {"type": "point", "padding": 0.5, "align": 0.2783}, "axis": null}, "text": {"field": "title"}}},
      {"data": {"name": "summary"}, "transform": [{"filter": "datum.metric === 'Progesterone : Oestradiol Ratio'"}],
       "mark": {"type": "text", "fontSize": 17.5, "fontWeight": "bold", "color": "#222", "align": "right", "dx": 2.6, "dy": 52.5},
       "encoding": {"x": {"field": "metric", "type": "nominal", "scale": {"type": "point", "padding": 0.5, "align": 0.4639}, "axis": null}, "y": {"field": "metric", "type": "nominal", "scale": {"type": "point", "padding": 0.5, "align": 0.2783}, "axis": null}, "text": {"field": "subtitle"}}},
      {"data": {"name": "summary"}, "transform": [{"filter": "datum.metric === 'Progesterone : Oestradiol Ratio'"}],
       "mark": {"type": "text", "fontSize": 14.5, "color": "#333", "align": "left", "dx": 15.2, "dy": 53.5},
       "encoding": {"x": {"field": "metric", "type": "nominal", "scale": {"type": "point", "padding": 0.5, "align": 0.4639}, "axis": null}, "y": {"field": "metric", "type": "nominal", "scale": {"type": "point", "padding": 0.5, "align": 0.2783}, "axis": null}, "text": {"field": "range"}}}
     ]},
     {"width": 6, "height": 106, "data": {"values": [{}]}, "mark": {"type": "rect", "color": "#efefef"}, "encoding": {}}
    ], "spacing": 0},
    {"hconcat": [
     {"width": 455, "height": 104, "layer": [
      {"data": {"values": [{}]}, "mark": {"type": "rect", "color": "#efefef"}, "encoding": {}},
      {"data": {"name": "testosterone"},
       "mark": {"type": "text", "fontSize": 17.5, "fontWeight": "bold", "color": "#222", "align": "left", "dy": 1},
       "encoding": {"x": {"datum": "label", "type": "nominal", "scale": {"type": "point", "domain": ["label", "value"], "padding": 0.2327, "align": 0.05536}, "axis": null}, "text": {"field": "label"}}},
      {"data": {"name": "testosterone"},
       "mark": {"type": "point", "shape": "M-3.2,-1L3.2,-1Q3.644,-1,3.644,-0.556L3.644,0.556Q3.644,1,3.2,1L-3.2,1Q-3.644,1,-3.644,0.556L-3.644,-0.556Q-3.644,-1,-3.2,-1Z", "size": 506, "filled": true, "fill": "white", "stroke": "#a6dbbf", "strokeWidth": 2.5, "opacity": 1},
       "encoding": {"x": {"datum": "value", "type": "nominal", "scale": {"type": "point", "domain": ["label", "value"], "padding": 0.2327, "align": 0.05536}, "axis": null}}},
      {"data": {"name": "testosterone"},
       "mark": {"type": "text", "fontSize": 17.5, "color": "#333"},
       "encoding": {"x": {"datum": "value", "type": "nominal", "scale": {"type": "point", "domain": ["label", "value"], "padding": 0.2327, "align": 0.05536}, "axis": null}, "text": {"field": "value", "type": "quantitative", "format": ".1f"}}}
     ]},
     {"vconcat": [
      {"width": 501, "height": 24, "layer": [
       {"data": {"values": [{}]}, "mark": {"type": "rect", "color": "#efefef"}, "encoding": {}},
       {"data": {"values": [{"header": "Analyte"}]}, "mark": {"type": "text", "fontSize": 14, "fontWeight": "bold", "color": "#222", "align": "left"},
        "encoding": {"x": {"field": "header", "type": "nominal", "scale": {"type": "point", "domain": ["Analyte", "Reference Range (pg/mL)"], "padding": 0.0165, "align": 0.375}, "axis": null}, "text": {"field": "header"}}},
       {"data": {"values": [{"header": "Reference Range (pg/mL)"}]}, "mark": {"type": "text", "fontSize": 14.5, "fontWeight": "bold", "color": "#222", "align": "right", "dy": -2},
        "encoding": {"x": {"field": "header", "type": "nominal", "scale": {"type": "point", "domain": ["Analyte", "Reference Range (pg/mL)"], "padding": 0.0165, "align": 0.375}, "axis": null}, "text": {"field": "header"}}}
      ]},
      {"hconcat": [
       {"width": 496, "height": 49, "layer": [
        {"data": {"values": [{}]}, "mark": {"type": "rect", "color": "white"}, "encoding": {}},
        {"data": {"name": "gaugeZones"}, "transform": [{"filter": "datum.zone === 'out'"}], "mark": {"type": "rect", "color": "#f27684"},
         "encoding": {"x": {"field": "from", "type": "quantitative", "scale": {"domain": [-87.6, 162.1], "nice": false, "zero": false}, "axis": null}, "x2": {"field": "to"}}},
        {"data": {"name": "gaugeZones"}, "transform": [{"filter": "datum.zone === 'border'"}], "mark": {"type": "rect", "color": "#f9f5c0"},
         "encoding": {"x": {"field": "from", "type": "quantitative", "scale": {"domain": [-87.6, 162.1], "nice": false, "zero": false}, "axis": null}, "x2": {"field": "to"}}},
        {"data": {"name": "gaugeZones"}, "transform": [{"filter": "datum.zone === 'normal'"}], "mark": {"type": "rect", "color": "#abdcc2"},
         "encoding": {"x": {"field": "from", "type": "quantitative", "scale": {"domain": [-87.6, 162.1], "nice": false, "zero": false}, "axis": null}, "x2": {"field": "to"}}},
        {"data": {"name": "testosterone"}, "mark": {"type": "rect", "filled": false, "stroke": "#555", "strokeWidth": 2, "strokeDash": [5, 3]},
         "encoding": {"x": {"field": "targetLow", "type": "quantitative", "scale": {"domain": [-87.6, 162.1], "nice": false, "zero": false}, "axis": null}, "x2": {"field": "targetHigh"},
          "y": {"datum": 0.1, "type": "quantitative", "scale": {"domain": [0, 1], "nice": false, "zero": false}, "axis": null}, "y2": {"datum": 0.9}}},
        {"data": {"name": "testosterone"}, "mark": {"type": "point", "shape": "M-1.75,0C-1.75,-0.552,-0.967,-1,0,-1C0.967,-1,1.75,-0.552,1.75,0C1.75,0.552,0.967,1,0,1C-0.967,1,-1.75,0.552,-1.75,0ZM0,-1L0,-0.57M0,0.57L0,1", "size": 784, "filled": true, "fill": "white", "stroke": "#111", "strokeWidth": 1.2, "opacity": 1},
         "encoding": {"x": {"field": "value", "type": "quantitative", "scale": {"domain": [-87.6, 162.1], "nice": false, "zero": false}, "axis": null}}},
        {"data": {"name": "testosterone"}, "mark": {"type": "text", "fontSize": 14, "color": "#222"},
         "encoding": {"x": {"field": "value", "type": "quantitative", "scale": {"domain": [-87.6, 162.1], "nice": false, "zero": false}, "axis": null}, "text": {"field": "value", "type": "quantitative", "format": ".1f"}}},
        {"data": {"name": "testosterone"}, "mark": {"type": "text", "fontSize": 14, "color": "#222", "align": "left"},
         "encoding": {"x": {"datum": -85.2, "type": "quantitative", "scale": {"domain": [-87.6, 162.1], "nice": false, "zero": false}, "axis": null}, "text": {"field": "analyte"}}},
        {"data": {"name": "testosterone"}, "mark": {"type": "text", "fontSize": 14.5, "color": "#222", "align": "right"},
         "encoding": {"x": {"datum": 155.6, "type": "quantitative", "scale": {"domain": [-87.6, 162.1], "nice": false, "zero": false}, "axis": null}, "text": {"field": "range"}}},
        {"data": {"values": [{}]}, "mark": {"type": "rect", "filled": false, "stroke": "#333", "strokeWidth": 2},
         "encoding": {"x": {"datum": -86.9, "type": "quantitative", "scale": {"domain": [-87.6, 162.1], "nice": false, "zero": false}, "axis": null}, "x2": {"datum": 161.4},
          "y": {"datum": 0.03, "type": "quantitative", "scale": {"domain": [0, 1], "nice": false, "zero": false}, "axis": null}, "y2": {"datum": 0.97}}}
       ]},
       {"width": 5, "height": 49, "data": {"values": [{}]}, "mark": {"type": "rect", "color": "#efefef"}, "encoding": {}}
      ], "spacing": 0},
      {"width": 501, "height": 31, "data": {"values": [{}]}, "mark": {"type": "rect", "color": "#efefef"}, "encoding": {}}
     ], "spacing": 0}
    ], "spacing": 0}
   ], "spacing": 0}
  ], "spacing": 0},
  {"width": 960, "height": 26, "layer": [
   {"data": {"values": [{}]}, "mark": {"type": "rect", "color": "#2350a0"}, "encoding": {}},
   {"data": {"values": [{"footer": "Reported By: \u00a0NRA"}]}, "mark": {"type": "text", "fontSize": 17.5, "color": "white", "align": "left", "dy": 2},
    "encoding": {"x": {"field": "footer", "type": "nominal", "scale": {"type": "point", "padding": 0.5, "align": 0.0077}, "axis": null}, "text": {"field": "footer"}}}
  ]}
 ], "spacing": 0}
],
"spacing": 12
}
